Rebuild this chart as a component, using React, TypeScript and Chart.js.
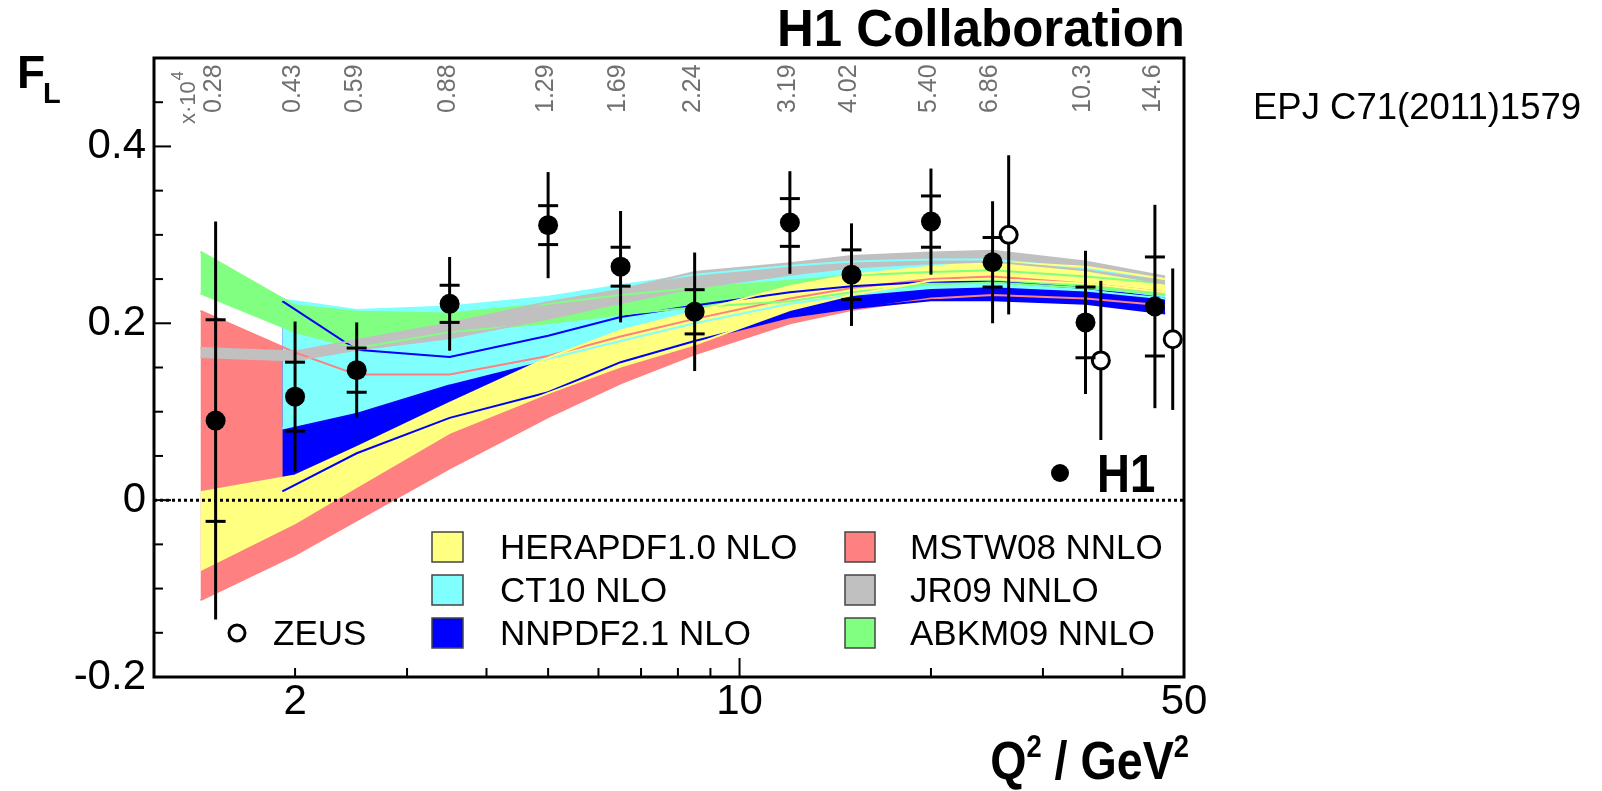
import React, { useEffect, useRef } from 'react';
import Chart from 'chart.js/auto';

const FONT = "'Liberation Sans', Arial, Helvetica, sans-serif";

// ---- H1 measurement ----
const h1Q2 = [1.5, 2, 2.5, 3.5, 5, 6.5, 8.5, 12, 15, 20, 25, 35, 45];
const h1FL = [0.09, 0.117, 0.147, 0.222, 0.311, 0.264, 0.213, 0.314, 0.255, 0.315, 0.269, 0.201, 0.219];
const h1Stat = [0.114, 0.039, 0.025, 0.021, 0.022, 0.022, 0.025, 0.027, 0.028, 0.029, 0.028, 0.04, 0.056];
const h1Tot = [0.225, 0.085, 0.054, 0.053, 0.06, 0.063, 0.067, 0.058, 0.058, 0.06, 0.069, 0.081, 0.115];
const xBjLabels = ['0.28', '0.43', '0.59', '0.88', '1.29', '1.69', '2.24', '3.19', '4.02', '5.40', '6.86', '10.3', '14.6'];

// ---- ZEUS measurement ----
const zeusQ2 = [26.5, 37, 48];
const zeusFL = [0.3, 0.158, 0.182];
const zeusErr = [0.09, 0.09, 0.08];

// ---- theory bands ----
const bandQ2 = [1.42, 2, 2.5, 3.5, 5, 6.5, 8.5, 12, 15, 20, 25, 35, 46.7];
const mstwLo = [-0.113, -0.062, -0.023, 0.036, 0.094, 0.132, 0.165, 0.2, 0.215, 0.228, 0.232, 0.228, 0.22];
const mstwHi = [0.214, 0.167, 0.142, 0.142, 0.163, 0.185, 0.205, 0.228, 0.24, 0.25, 0.253, 0.245, 0.235];
const heraLo = [-0.079, -0.026, 0.015, 0.076, 0.121, 0.151, 0.176, 0.215, 0.232, 0.248, 0.25, 0.245, 0.235];
const heraHi = [0.009, 0.028, 0.06, 0.11, 0.161, 0.192, 0.213, 0.242, 0.255, 0.264, 0.27, 0.264, 0.25];
const abkmLo = [0.234, 0.19, 0.172, 0.19, 0.2, 0.21, 0.218, 0.225, 0.235, 0.244, 0.246, 0.24, 0.232];
const abkmHi = [0.281, 0.22, 0.213, 0.211, 0.222, 0.232, 0.24, 0.248, 0.254, 0.258, 0.26, 0.253, 0.245];
const jr09Lo = [0.162, 0.158, 0.17, 0.183, 0.205, 0.223, 0.24, 0.255, 0.263, 0.268, 0.27, 0.26, 0.245];
const jr09Hi = [0.172, 0.168, 0.181, 0.2, 0.224, 0.238, 0.258, 0.268, 0.276, 0.28, 0.282, 0.27, 0.253];

const nloQ2 = [1.91, 2.5, 3.5, 5, 6.5, 8.5, 12, 15, 20, 25, 35, 46.7];
const ct10Lo = [0.081, 0.1, 0.132, 0.16, 0.18, 0.2, 0.222, 0.232, 0.24, 0.242, 0.237, 0.228];
const ct10Hi = [0.227, 0.215, 0.219, 0.23, 0.243, 0.255, 0.265, 0.27, 0.272, 0.272, 0.262, 0.25];
const nnpdfLo = [0.01, 0.053, 0.093, 0.122, 0.156, 0.18, 0.207, 0.217, 0.226, 0.226, 0.222, 0.211];
const nnpdfHi = [0.225, 0.17, 0.162, 0.186, 0.207, 0.22, 0.235, 0.242, 0.247, 0.247, 0.24, 0.228];

// ---- axes ----
const xTickValues = [2, 10, 50];
const xTickLabels = ['2', '10', '50'];
const xMinorTicks = [2, 3, 4, 5, 6, 7, 8, 9, 20, 30, 40];
const xMajorTicks = [10];
const yTickValues = [-0.2, 0, 0.2, 0.4];
const yTickLabels = ['-0.2', '0', '0.2', '0.4'];
const yMinorTicks = [-0.15, -0.1, -0.05, 0.05, 0.1, 0.15, 0.25, 0.3, 0.35, 0.45];

// ---- legend ----
const legendCol1 = ['HERAPDF1.0 NLO', 'CT10 NLO', 'NNPDF2.1 NLO'];
const legendCol1Colors = ['#ffff80', '#80ffff', '#0000ff'];
const legendCol2 = ['MSTW08 NNLO', 'JR09 NNLO', 'ABKM09 NNLO'];
const legendCol2Colors = ['#ff8080', '#c0c0c0', '#80ff80'];

const COL = {
  yellow: '#ffff80',
  cyan: '#80ffff',
  blue: '#0000ff',
  red: '#ff8080',
  gray: '#c0c0c0',
  green: '#80ff80',
};

function pts(xs: number[], ys: number[]) {
  return xs.map((x, i) => ({ x, y: ys[i] }));
}

function bandSets(xs: number[], lo: number[], hi: number[], color: string) {
  const common = { borderColor: color, backgroundColor: color, borderWidth: 2, pointRadius: 0, tension: 0 };
  return [
    { ...common, data: pts(xs, lo), fill: false },
    { ...common, data: pts(xs, hi), fill: '-1' },
  ];
}

function condensedText(ctx: CanvasRenderingContext2D, text: string, x: number, y: number, sx: number) {
  ctx.save();
  ctx.translate(x, y);
  ctx.scale(sx, 1);
  ctx.fillText(text, 0, 0);
  ctx.restore();
}

export default function App() {
  const ref = useRef<HTMLCanvasElement | null>(null);

  useEffect(() => {
    const canvas = ref.current;
    if (!canvas) return;

    const decor = {
      id: 'decor',
      beforeDatasetDraw(chart: any, args: any) {
        const ctx = chart.ctx;
        const xs = chart.scales.x;
        const ys = chart.scales.y;
        const area = chart.chartArea;
        if (args.index === 1) {
          // zero line
          ctx.save();
          ctx.strokeStyle = '#000';
          ctx.lineWidth = 3;
          ctx.setLineDash([3, 3]);
          ctx.beginPath();
          ctx.moveTo(area.left, ys.getPixelForValue(0));
          ctx.lineTo(area.right, ys.getPixelForValue(0));
          ctx.stroke();
          ctx.restore();
          // ZEUS errors
          ctx.save();
          ctx.strokeStyle = '#000';
          ctx.lineWidth = 3;
          zeusQ2.forEach((q, i) => {
            const x = xs.getPixelForValue(q);
            ctx.beginPath();
            ctx.moveTo(x, ys.getPixelForValue(zeusFL[i] + zeusErr[i]));
            ctx.lineTo(x, ys.getPixelForValue(zeusFL[i] - zeusErr[i]));
            ctx.stroke();
          });
          ctx.restore();
        }
        if (args.index === 0) {
          ctx.save();
          ctx.strokeStyle = '#000';
          ctx.lineWidth = 3;
          h1Q2.forEach((q, i) => {
            const x = xs.getPixelForValue(q);
            ctx.beginPath();
            ctx.moveTo(x, ys.getPixelForValue(h1FL[i] + h1Tot[i]));
            ctx.lineTo(x, ys.getPixelForValue(h1FL[i] - h1Tot[i]));
            ctx.stroke();
            [h1FL[i] + h1Stat[i], h1FL[i] - h1Stat[i]].forEach((v) => {
              const y = ys.getPixelForValue(v);
              ctx.beginPath();
              ctx.moveTo(x - 10, y);
              ctx.lineTo(x + 10, y);
              ctx.stroke();
            });
          });
          ctx.restore();
        }
      },
      afterDatasetsDraw(chart: any) {
        const ctx = chart.ctx;
        const xs = chart.scales.x;
        const ys = chart.scales.y;
        const a = chart.chartArea;
        ctx.save();
        // frame
        ctx.strokeStyle = '#000';
        ctx.lineWidth = 3;
        ctx.setLineDash([]);
        ctx.strokeRect(a.left, a.top, a.right - a.left, a.bottom - a.top);
        // inner ticks
        ctx.lineWidth = 2;
        xMinorTicks.forEach((v) => {
          const x = xs.getPixelForValue(v);
          ctx.beginPath();
          ctx.moveTo(x, a.bottom);
          ctx.lineTo(x, a.bottom - 9);
          ctx.stroke();
        });
        xMajorTicks.forEach((v) => {
          const x = xs.getPixelForValue(v);
          ctx.beginPath();
          ctx.moveTo(x, a.bottom);
          ctx.lineTo(x, a.bottom - 19);
          ctx.stroke();
        });
        yMinorTicks.forEach((v) => {
          const y = ys.getPixelForValue(v);
          ctx.beginPath();
          ctx.moveTo(a.left, y);
          ctx.lineTo(a.left + 9, y);
          ctx.stroke();
        });
        yTickValues.forEach((v) => {
          const y = ys.getPixelForValue(v);
          ctx.beginPath();
          ctx.moveTo(a.left, y);
          ctx.lineTo(a.left + 17, y);
          ctx.stroke();
        });

        // Bjorken x labels (rotated)
        ctx.fillStyle = '#707070';
        ctx.font = `25px ${FONT}`;
        ctx.textAlign = 'left';
        ctx.textBaseline = 'middle';
        h1Q2.forEach((q, i) => {
          const x = xs.getPixelForValue(q);
          ctx.save();
          ctx.translate(x - 2, 113);
          ctx.rotate(-Math.PI / 2);
          ctx.fillText(xBjLabels[i], 0, 0);
          ctx.restore();
        });
        ctx.save();
        ctx.translate(189, 124);
        ctx.rotate(-Math.PI / 2);
        ctx.font = `22px ${FONT}`;
        const base = 'x\u00b710';
        ctx.fillText(base, 0, 0);
        const bw = ctx.measureText(base).width;
        ctx.font = `16px ${FONT}`;
        ctx.fillText('4', bw + 1, -10);
        ctx.restore();

        // legend
        ctx.textAlign = 'left';
        ctx.textBaseline = 'middle';
        ctx.font = `35px ${FONT}`;
        const rows = [547, 590, 633];
        rows.forEach((cy, i) => {
          ctx.fillStyle = legendCol1Colors[i];
          ctx.fillRect(432, cy - 15, 31, 30);
          ctx.strokeStyle = '#444';
          ctx.lineWidth = 1.5;
          ctx.strokeRect(432, cy - 15, 31, 30);
          ctx.fillStyle = '#000';
          ctx.fillText(legendCol1[i], 500, cy + 2);

          ctx.fillStyle = legendCol2Colors[i];
          ctx.fillRect(845, cy - 15, 30, 30);
          ctx.strokeRect(845, cy - 15, 30, 30);
          ctx.fillStyle = '#000';
          ctx.fillText(legendCol2[i], 910, cy + 2);
        });
        // ZEUS legend
        ctx.beginPath();
        ctx.arc(237, 633, 8, 0, Math.PI * 2);
        ctx.fillStyle = '#fff';
        ctx.fill();
        ctx.lineWidth = 3;
        ctx.strokeStyle = '#000';
        ctx.stroke();
        ctx.fillStyle = '#000';
        ctx.fillText('ZEUS', 273, 635);
        // H1 legend
        ctx.beginPath();
        ctx.arc(1060, 473, 9, 0, Math.PI * 2);
        ctx.fill();
        ctx.font = `bold 53px ${FONT}`;
        ctx.textBaseline = 'alphabetic';
        condensedText(ctx, 'H1', 1097, 492, 0.86);
        ctx.restore();
      },
      afterDraw(chart: any) {
        const ctx = chart.ctx;
        ctx.save();
        ctx.fillStyle = '#000';
        ctx.textBaseline = 'alphabetic';
        // header
        ctx.font = `bold 51px ${FONT}`;
        ctx.textAlign = 'right';
        ctx.fillText('H1 Collaboration', 1185, 46);
        ctx.textAlign = 'left';
        ctx.font = `36.5px ${FONT}`;
        ctx.fillText('EPJ C71(2011)1579', 1253, 119);
        // y title
        ctx.font = `bold 46px ${FONT}`;
        ctx.fillText('F', 17, 88);
        ctx.font = `bold 29px ${FONT}`;
        ctx.fillText('L', 43, 103);
        // x title (condensed bold)
        const sx = 0.88;
        const parts: [string, number, number][] = [
          ['Q', 53, 0],
          ['2', 31, -22],
          [' / GeV', 53, 0],
          ['2', 31, -22],
        ];
        let total = 0;
        parts.forEach(([t, s]) => {
          ctx.font = `bold ${s}px ${FONT}`;
          total += ctx.measureText(t).width * sx;
        });
        let x = 1189 - total;
        parts.forEach(([t, s, dy]) => {
          ctx.font = `bold ${s}px ${FONT}`;
          condensedText(ctx, t, x, 779 + dy, sx);
          x += ctx.measureText(t).width * sx;
        });
        ctx.restore();
      },
    };

    const datasets: any[] = [
      {
        data: pts(h1Q2, h1FL),
        showLine: false,
        pointRadius: 10,
        pointBackgroundColor: '#000',
        pointBorderColor: '#000',
        pointBorderWidth: 0,
        borderColor: '#000',
        fill: false,
      },
      {
        data: pts(zeusQ2, zeusFL),
        showLine: false,
        pointRadius: 8.5,
        pointBackgroundColor: '#fff',
        pointBorderColor: '#000',
        pointBorderWidth: 3,
        borderColor: '#000',
        fill: false,
      },
      ...bandSets(bandQ2, jr09Lo, jr09Hi, COL.gray),
      ...bandSets(bandQ2, heraLo, heraHi, COL.yellow),
      ...bandSets(bandQ2, abkmLo, abkmHi, COL.green),
      ...bandSets(nloQ2, ct10Lo, ct10Hi, COL.cyan),
      ...bandSets(nloQ2, nnpdfLo, nnpdfHi, COL.blue),
      ...bandSets(bandQ2, mstwLo, mstwHi, COL.red),
    ];

    const chart = new Chart(canvas, {
      type: 'line',
      data: { datasets },
      options: {
        animation: false,
        responsive: false,
        devicePixelRatio: 1,
        layout: { padding: { left: 0, top: 58, right: 418, bottom: 0 } },
        plugins: {
          legend: { display: false },
          tooltip: { enabled: false },
          filler: { drawTime: 'beforeDatasetsDraw', propagate: false },
        } as any,
        scales: {
          x: {
            type: 'logarithmic',
            min: 1.2,
            max: 50,
            grid: { display: false, drawTicks: false },
            border: { display: false },
            afterBuildTicks: (s: any) => {
              s.ticks = xTickValues.map((v) => ({ value: v }));
            },
            afterFit: (s: any) => {
              s.height = 114;
            },
            ticks: {
              autoSkip: false,
              maxRotation: 0,
              minRotation: 0,
              padding: 0,
              color: '#000',
              font: { family: FONT, size: 42 },
              callback: (_v: any, i: number) => xTickLabels[i],
            },
          },
          y: {
            type: 'linear',
            min: -0.2,
            max: 0.5,
            grid: { display: false, drawTicks: false },
            border: { display: false },
            afterBuildTicks: (s: any) => {
              s.ticks = yTickValues.map((v) => ({ value: v }));
            },
            afterFit: (s: any) => {
              s.width = 154;
            },
            ticks: {
              padding: 8,
              color: '#000',
              font: { family: FONT, size: 42 },
              callback: (_v: any, i: number) => yTickLabels[i],
            },
          },
        } as any,
      },
      plugins: [decor],
    });

    return () => chart.destroy();
  }, []);

  return (
    <div style={{ position: 'absolute', left: 0, top: 0, width: 1602, height: 791, background: '#fff' }}>
      <canvas ref={ref} width={1602} height={791} />
    </div>
  );
}
